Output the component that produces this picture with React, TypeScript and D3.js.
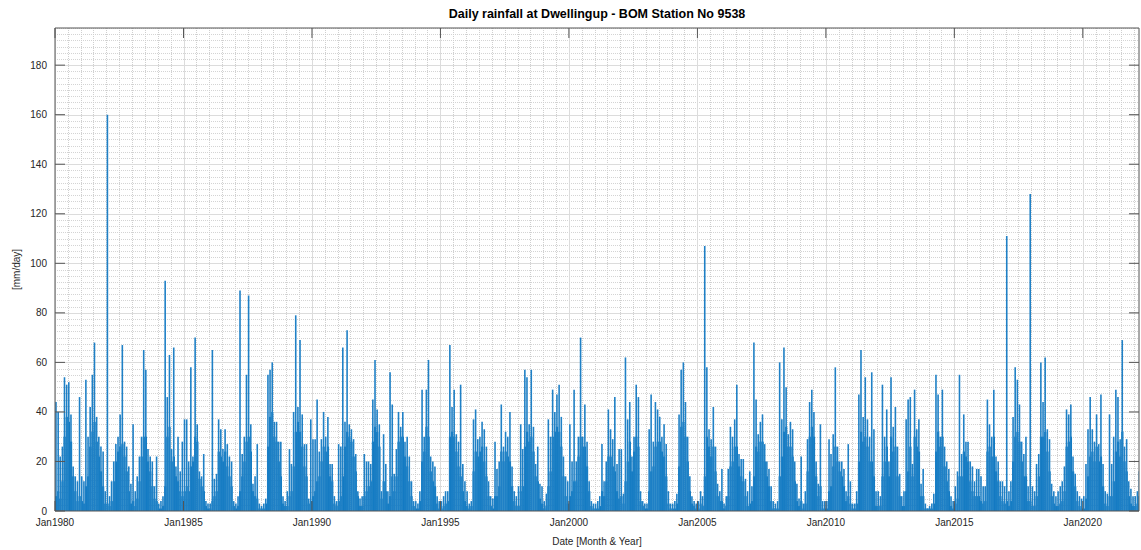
import React, { useEffect } from "react";
import * as d3 from "d3";

// Daily rainfall at Dwellingup, summarised per month: highest day (peak) and typical wet-day level (bulk), mm/day
const startYear = 1980;
const monthLabels = ["Jan", "Feb", "Mar", "Apr", "May", "Jun", "Jul", "Aug", "Sep", "Oct", "Nov", "Dec"];

const monthlyPeak: number[][] = [
  [44, 40, 22, 26, 54, 51, 52, 39, 18, 14, 12, 46], // 1980
  [14, 12, 53, 30, 42, 55, 68, 38, 30, 26, 24, 8], // 1981
  [160, 6, 12, 20, 27, 30, 39, 67, 28, 26, 18, 11], // 1982
  [35, 8, 14, 22, 30, 65, 57, 25, 22, 20, 10, 22], // 1983
  [3, 4, 6, 93, 46, 63, 25, 66, 18, 30, 16, 28], // 1984
  [37, 37, 20, 58, 22, 70, 35, 16, 14, 23, 4, 3], // 1985
  [3, 65, 13, 15, 37, 33, 25, 33, 27, 22, 20, 4], // 1986
  [3, 6, 89, 23, 30, 55, 87, 35, 11, 14, 27, 3], // 1987
  [2, 3, 5, 55, 57, 60, 36, 36, 28, 28, 6, 4], // 1988
  [8, 25, 19, 40, 79, 42, 69, 39, 27, 27, 5, 37], // 1989
  [29, 29, 45, 24, 29, 40, 30, 38, 19, 19, 6, 4], // 1990
  [27, 26, 66, 36, 73, 35, 33, 29, 23, 8, 5, 6], // 1991
  [23, 20, 20, 19, 45, 61, 41, 35, 8, 31, 19, 8], // 1992
  [56, 43, 15, 25, 40, 34, 40, 28, 30, 22, 12, 4], // 1993
  [4, 3, 8, 49, 30, 49, 61, 22, 20, 18, 6, 4], // 1994
  [4, 6, 8, 8, 67, 42, 49, 31, 28, 51, 19, 12], // 1995
  [8, 3, 4, 37, 41, 29, 30, 36, 33, 26, 12, 6], // 1996
  [5, 28, 17, 20, 43, 26, 32, 30, 40, 18, 8, 6], // 1997
  [10, 35, 25, 57, 54, 35, 57, 34, 19, 26, 11, 10], // 1998
  [4, 7, 37, 30, 49, 40, 47, 51, 38, 22, 14, 12], // 1999
  [35, 20, 49, 20, 30, 70, 30, 43, 28, 12, 4, 3], // 2000
  [3, 4, 6, 27, 12, 20, 41, 33, 29, 46, 19, 25], // 2001
  [25, 7, 62, 37, 44, 22, 30, 51, 46, 8, 4, 3], // 2002
  [3, 33, 47, 28, 44, 41, 38, 30, 35, 27, 8, 3], // 2003
  [3, 4, 7, 39, 57, 60, 44, 30, 14, 6, 4, 3], // 2004
  [4, 8, 6, 107, 58, 33, 29, 42, 26, 11, 8, 17], // 2005
  [3, 6, 17, 34, 30, 37, 51, 23, 21, 21, 13, 8], // 2006
  [16, 10, 68, 45, 31, 36, 39, 27, 20, 17, 10, 4], // 2007
  [3, 4, 60, 37, 66, 50, 31, 36, 33, 20, 11, 5], // 2008
  [22, 3, 8, 29, 44, 49, 40, 20, 11, 35, 4, 4], // 2009
  [4, 29, 23, 31, 58, 26, 20, 20, 17, 8, 27, 12], // 2010
  [3, 3, 8, 47, 65, 38, 54, 37, 30, 56, 33, 8], // 2011
  [8, 6, 51, 30, 41, 20, 54, 34, 42, 26, 15, 6], // 2012
  [8, 37, 45, 46, 19, 49, 33, 37, 11, 17, 3, 1], // 2013
  [2, 3, 7, 55, 47, 30, 49, 26, 20, 17, 6, 4], // 2014
  [10, 16, 55, 23, 39, 28, 28, 20, 18, 12, 17, 17], // 2015
  [14, 10, 10, 45, 35, 30, 49, 22, 20, 12, 12, 10], // 2016
  [111, 8, 12, 38, 58, 53, 43, 28, 23, 30, 10, 128], // 2017
  [10, 8, 19, 23, 60, 44, 62, 33, 29, 11, 8, 6], // 2018
  [8, 10, 12, 18, 41, 39, 43, 22, 15, 8, 6, 5], // 2019
  [6, 19, 33, 46, 33, 28, 39, 27, 47, 19, 8, 7], // 2020
  [39, 19, 30, 49, 46, 29, 69, 26, 29, 12, 9, 6], // 2021
  [6, 8, 16], // 2022
];

const monthlyBulk: number[][] = [
  [6, 8, 5, 12, 30, 38, 36, 28, 14, 8, 4, 6], // 1980
  [4, 3, 10, 14, 26, 32, 36, 28, 22, 16, 10, 3], // 1981
  [3, 2, 4, 12, 20, 24, 26, 27, 22, 16, 8, 3], // 1982
  [4, 2, 5, 12, 22, 30, 30, 20, 16, 10, 5, 4], // 1983
  [1, 1, 2, 10, 30, 34, 20, 22, 14, 12, 8, 6], // 1984
  [8, 10, 8, 18, 20, 30, 28, 13, 10, 8, 2, 1], // 1985
  [1, 4, 6, 8, 24, 22, 20, 24, 18, 14, 10, 2], // 1986
  [1, 2, 8, 14, 20, 28, 30, 24, 8, 6, 5, 1], // 1987
  [1, 1, 3, 26, 38, 40, 30, 28, 20, 14, 3, 2], // 1988
  [2, 6, 8, 18, 32, 36, 32, 26, 18, 14, 3, 4], // 1989
  [6, 8, 12, 14, 20, 26, 24, 26, 14, 12, 3, 2], // 1990
  [4, 6, 14, 26, 32, 30, 28, 22, 16, 6, 2, 2], // 1991
  [6, 8, 10, 12, 28, 34, 32, 26, 5, 12, 8, 3], // 1992
  [6, 14, 8, 14, 28, 30, 30, 22, 18, 12, 6, 2], // 1993
  [1, 1, 4, 20, 24, 34, 30, 16, 12, 10, 3, 1], // 1994
  [1, 2, 3, 4, 30, 32, 30, 24, 18, 14, 8, 4], // 1995
  [2, 1, 2, 16, 24, 22, 24, 26, 20, 14, 6, 2], // 1996
  [1, 6, 6, 10, 24, 20, 24, 22, 20, 10, 4, 2], // 1997
  [2, 8, 10, 26, 32, 28, 30, 24, 14, 12, 5, 3], // 1998
  [1, 2, 10, 16, 30, 32, 34, 32, 26, 14, 6, 3], // 1999
  [6, 8, 12, 12, 22, 30, 26, 26, 18, 8, 2, 1], // 2000
  [1, 1, 2, 8, 6, 12, 22, 22, 18, 16, 8, 5], // 2001
  [6, 3, 12, 20, 28, 16, 24, 30, 26, 4, 2, 1], // 2002
  [1, 8, 16, 18, 26, 28, 28, 24, 22, 14, 3, 1], // 2003
  [1, 1, 3, 18, 34, 36, 30, 20, 8, 3, 2, 1], // 2004
  [1, 3, 2, 14, 30, 26, 22, 26, 16, 6, 4, 4], // 2005
  [1, 2, 6, 18, 20, 26, 26, 18, 14, 12, 6, 2], // 2006
  [3, 4, 14, 26, 24, 28, 28, 20, 14, 10, 4, 1], // 2007
  [1, 1, 14, 22, 32, 34, 26, 26, 22, 12, 4, 2], // 2008
  [4, 1, 3, 16, 30, 34, 30, 14, 6, 10, 1, 1], // 2009
  [1, 8, 10, 18, 26, 20, 16, 14, 10, 4, 6, 3], // 2010
  [1, 1, 3, 20, 32, 28, 30, 26, 20, 20, 14, 2], // 2011
  [2, 2, 14, 20, 26, 14, 30, 24, 26, 14, 6, 2], // 2012
  [2, 8, 16, 26, 14, 30, 26, 24, 6, 6, 1, 1], // 2013
  [1, 1, 3, 24, 32, 26, 30, 18, 12, 8, 2, 1], // 2014
  [3, 5, 14, 14, 24, 22, 20, 12, 8, 6, 6, 6], // 2015
  [4, 3, 4, 24, 26, 22, 30, 16, 12, 6, 4, 3], // 2016
  [4, 2, 4, 20, 30, 32, 28, 20, 14, 14, 4, 4], // 2017
  [2, 2, 6, 14, 30, 30, 32, 24, 16, 6, 3, 2], // 2018
  [2, 3, 4, 8, 26, 28, 30, 16, 10, 4, 2, 1], // 2019
  [1, 5, 14, 22, 24, 20, 26, 20, 22, 10, 3, 2], // 2020
  [6, 6, 12, 24, 28, 22, 32, 20, 16, 6, 3, 2], // 2021
  [2, 3, 6], // 2022
];

const yTicks = [0, 20, 40, 60, 80, 100, 120, 140, 160, 180];
const xTickYears = [1980, 1985, 1990, 1995, 2000, 2005, 2010, 2015, 2020];

const title = "Daily rainfall at Dwellingup - BOM Station No 9538";
const xLabel = "Date [Month & Year]";
const yLabel = "[mm/day]";

const W = 1141;
const H = 550;
const P = { left: 55, right: 1139, top: 28, bottom: 511 };
const FONT = "'Liberation Sans', Arial, Helvetica, sans-serif";
const BAR = "#0072BD";
const STEM = "#1f80c6";
const AXIS = "#555555";
const TXT = "#262626";

export default function App() {
  useEffect(() => {
    document.body.style.margin = "0";
  }, []);

  const x = d3
    .scaleTime()
    .domain([new Date(1980, 0, 1), new Date(2022, 2, 10)])
    .range([P.left, P.right]);
  const y = d3.scaleLinear().domain([0, 195]).range([P.bottom, P.top]);

  type Rec = { year: number; month: number; peak: number; bulk: number };
  const records: Rec[] = [];
  monthlyPeak.forEach((row, yi) =>
    row.forEach((v, m) =>
      records.push({ year: startYear + yi, month: m, peak: v, bulk: monthlyBulk[yi][m] })
    )
  );

  const minorX = d3.timeMonth.every(6)!.range(new Date(1980, 0, 1), new Date(2022, 3, 1));
  const majorX = xTickYears.map((yr) => new Date(yr, 0, 1));
  const minorY = d3.range(0, 195.01, 2.5);

  return (
    <svg
      width={W}
      height={H}
      style={{ display: "block", position: "absolute", left: 0, top: 0, background: "#fff" }}
      fontFamily={FONT}
    >
      <defs>
        <clipPath id="plotClip">
          <rect x={P.left} y={P.top} width={P.right - P.left} height={P.bottom - P.top} />
        </clipPath>
      </defs>
      <rect x={0} y={0} width={W} height={H} fill="#fff" />

      {/* grid */}
      <g clipPath="url(#plotClip)">
        {minorY.map((v) => (
          <line
            key={"my" + v}
            x1={P.left}
            x2={P.right}
            y1={Math.round(y(v)) + 0.5}
            y2={Math.round(y(v)) + 0.5}
            stroke="#d4d4d4"
            strokeDasharray="1,1"
          />
        ))}
        {minorX.map((d, i) => (
          <line
            key={"mx" + i}
            x1={Math.round(x(d)) + 0.5}
            x2={Math.round(x(d)) + 0.5}
            y1={P.top}
            y2={P.bottom}
            stroke="#cfcfcf"
            strokeDasharray="1,1"
          />
        ))}
        {yTicks.map((v) => (
          <line
            key={"gy" + v}
            x1={P.left}
            x2={P.right}
            y1={Math.round(y(v)) + 0.5}
            y2={Math.round(y(v)) + 0.5}
            stroke="#dcdcdc"
          />
        ))}
        {majorX.map((d, i) => (
          <line
            key={"gx" + i}
            x1={Math.round(x(d)) + 0.5}
            x2={Math.round(x(d)) + 0.5}
            y1={P.top}
            y2={P.bottom}
            stroke="#dcdcdc"
          />
        ))}
      </g>

      {/* bars */}
      <g clipPath="url(#plotClip)">
        {records.map((r) => {
          const x0 = x(new Date(r.year, r.month, 1));
          const x1 = x(new Date(r.year, r.month + 1, 1));
          return (
            <rect
              key={"b" + r.year + "-" + r.month}
              x={x0}
              y={y(r.bulk)}
              width={Math.max(0.5, x1 - x0)}
              height={y(0) - y(r.bulk)}
              fill={BAR}
            />
          );
        })}
        {records.map((r) => {
          const xc = x(new Date(r.year, r.month, 15));
          return (
            <line
              key={"s" + r.year + "-" + r.month}
              x1={xc}
              x2={xc}
              y1={y(0)}
              y2={y(r.peak)}
              stroke={STEM}
              strokeWidth={1.6}
            />
          );
        })}
      </g>

      {/* axes box */}
      <line x1={P.left} x2={P.left} y1={P.top} y2={P.bottom} stroke={AXIS} />
      <line x1={P.right} x2={P.right} y1={P.top} y2={P.bottom} stroke={AXIS} />
      <line x1={P.left} x2={P.right} y1={P.top} y2={P.top} stroke={AXIS} />
      <line x1={P.left} x2={P.right} y1={P.bottom} y2={P.bottom} stroke={AXIS} />

      {/* y ticks */}
      {yTicks.map((v) => (
        <g key={"yt" + v}>
          <line x1={P.left} x2={P.left + 10} y1={y(v)} y2={y(v)} stroke={AXIS} />
          <line x1={P.right} x2={P.right - 10} y1={y(v)} y2={y(v)} stroke={AXIS} />
          <text
            x={P.left - 8}
            y={y(v)}
            textAnchor="end"
            dominantBaseline="central"
            fontSize={10}
            fill={TXT}
          >
            {v}
          </text>
        </g>
      ))}

      {/* x ticks */}
      {majorX.map((d, i) => (
        <g key={"xt" + i}>
          <line x1={x(d)} x2={x(d)} y1={P.bottom} y2={P.bottom - 10} stroke={AXIS} />
          <line x1={x(d)} x2={x(d)} y1={P.top} y2={P.top + 10} stroke={AXIS} />
          <text x={x(d)} y={P.bottom + 15} textAnchor="middle" fontSize={10} fill={TXT}>
            {monthLabels[d.getMonth()] + d.getFullYear()}
          </text>
        </g>
      ))}

      {/* labels */}
      <text x={(P.left + P.right) / 2} y={18} textAnchor="middle" fontSize={12.5} fontWeight="bold" fill="#000">
        {title}
      </text>
      <text x={(P.left + P.right) / 2} y={545} textAnchor="middle" fontSize={10} fill={TXT}>
        {xLabel}
      </text>
      <text
        transform={`translate(20, ${(P.top + P.bottom) / 2}) rotate(-90)`}
        textAnchor="middle"
        fontSize={10}
        fill={TXT}
      >
        {yLabel}
      </text>
    </svg>
  );
}
